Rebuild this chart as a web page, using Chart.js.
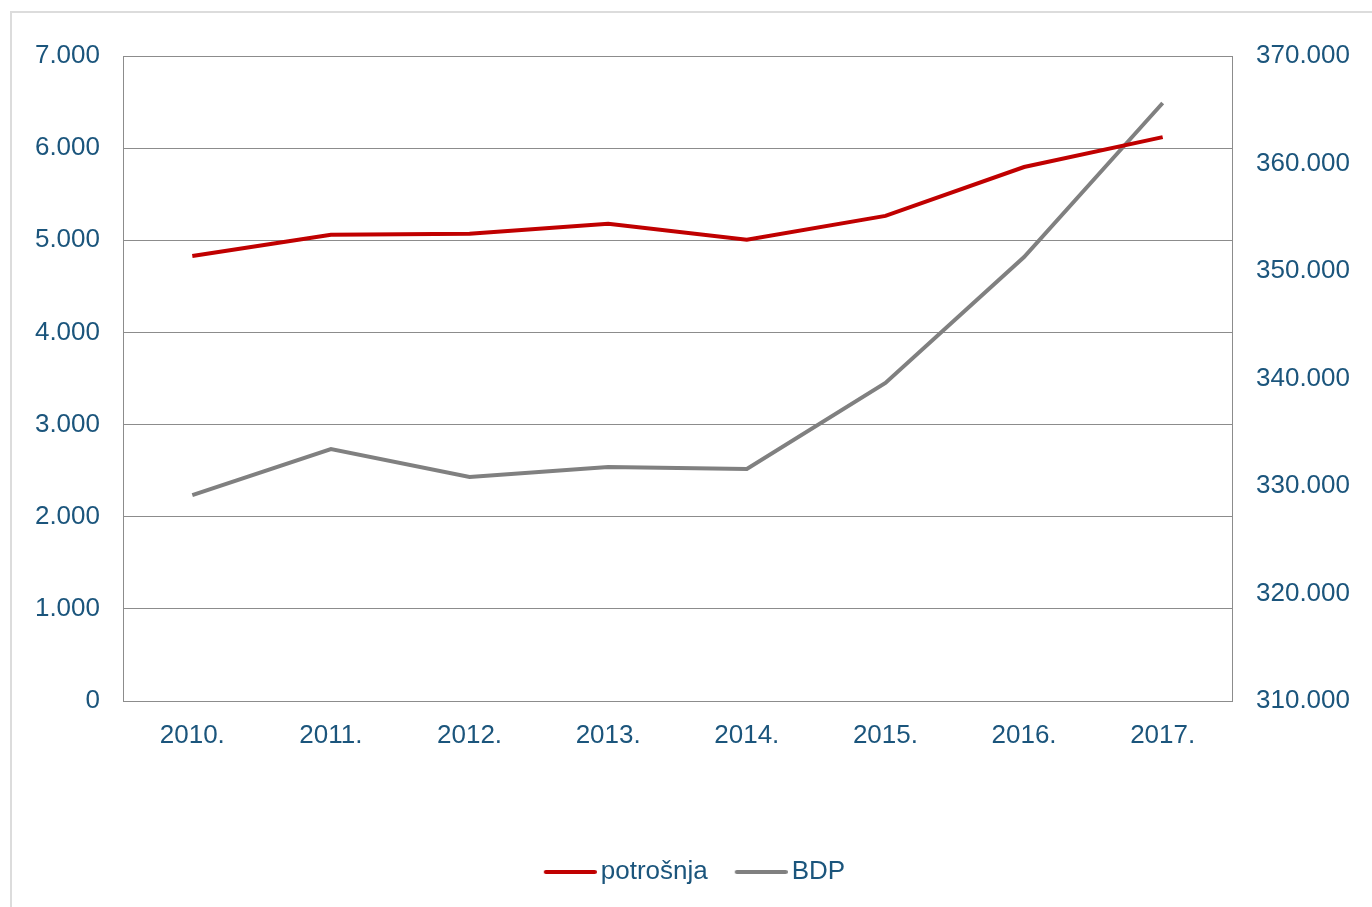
<!DOCTYPE html>
<html>
<head>
<meta charset="utf-8">
<script src="https://cdn.jsdelivr.net/npm/chart.js@4"></script>
<style>
    html, body { margin: 0; padding: 0; background: #fff; }
    #wrap { position: relative; width: 1372px; height: 907px; overflow: hidden; }
    #frame { position: absolute; left: 10px; top: 11px; width: 1400px; height: 1000px; border-top: 2px solid #dcdcdc; border-left: 2px solid #dcdcdc; }
    canvas#chart { position: absolute; left: 0; top: 0; }
</style>
</head>
<body>
<div id="wrap">
    <div id="frame"></div>
    <canvas id="chart" width="1372" height="907"></canvas>
</div>
<script>
const years = ['2010.', '2011.', '2012.', '2013.', '2014.', '2015.', '2016.', '2017.'];
const potrosnja = [4830, 5060, 5070, 5180, 5005, 5265, 5795, 6120];
const bdp = [329160, 333440, 330840, 331770, 331580, 339580, 351300, 365630];
const leftTicks = [0, 7000, 1000];
const rightTicks = [310000, 370000, 10000];

const textColor = '#1b557c';
const gridColor = '#8c8c8c';
const redColor = '#c00000';
const greyColor = '#808080';

// tisućice s točkom, npr. 7.000
function fmt(v) {
    return String(v).replace(/\B(?=(\d{3})+(?!\d))/g, '.');
}

// mala slika crte za legendu (crta pomaknuta desno, blizu teksta)
function legendLine(color) {
    const c = document.createElement('canvas');
    c.width = 79;
    c.height = 6;
    const g = c.getContext('2d');
    g.strokeStyle = color;
    g.lineWidth = 4;
    g.lineCap = 'round';
    g.beginPath();
    g.moveTo(28, 3);
    g.lineTo(77, 3);
    g.stroke();
    return c;
}

Chart.defaults.font.family = '"Liberation Sans", Arial, sans-serif';
Chart.defaults.font.size = 26;
Chart.defaults.color = textColor;

new Chart(document.getElementById('chart').getContext('2d'), {
    type: 'line',
    data: {
        labels: years,
        datasets: [{
            label: 'potrošnja',
            data: potrosnja,
            borderColor: redColor,
            backgroundColor: redColor,
            borderWidth: 4,
            pointRadius: 0,
            pointStyle: legendLine(redColor),
            tension: 0,
            yAxisID: 'y'
        }, {
            label: 'BDP',
            data: bdp,
            borderColor: greyColor,
            backgroundColor: greyColor,
            borderWidth: 4,
            pointRadius: 0,
            pointStyle: legendLine(greyColor),
            tension: 0,
            yAxisID: 'y2'
        }]
    },
    options: {
        responsive: false,
        animation: false,
        layout: { padding: { top: 56, left: 0, right: 0, bottom: 12 } },
        plugins: {
            tooltip: { enabled: false },
            legend: {
                position: 'bottom',
                labels: {
                    usePointStyle: true,
                    pointStyleWidth: 61,
                    padding: 10,
                    color: textColor,
                    font: { size: 26 }
                }
            }
        },
        scales: {
            x: {
                offset: true,
                grid: { display: false, drawTicks: false },
                border: { display: true, color: gridColor, width: 1 },
                ticks: { padding: 19, color: textColor, maxRotation: 0 },
                afterFit: s => { s.height = 148; }
            },
            y: {
                position: 'left',
                min: leftTicks[0],
                max: leftTicks[1],
                grid: { color: gridColor, drawTicks: false, lineWidth: 1 },
                border: { display: true, color: gridColor, width: 1 },
                ticks: { stepSize: leftTicks[2], padding: 23, color: textColor, callback: v => fmt(v) },
                afterFit: s => { s.width = 123; }
            },
            y2: {
                position: 'right',
                min: rightTicks[0],
                max: rightTicks[1],
                grid: { drawOnChartArea: false, drawTicks: false },
                border: { display: true, color: gridColor, width: 1 },
                ticks: { stepSize: rightTicks[2], padding: 24, color: textColor, callback: v => fmt(v) },
                afterFit: s => { s.width = 140; }
            }
        }
    }
});
</script>
</body>
</html>
